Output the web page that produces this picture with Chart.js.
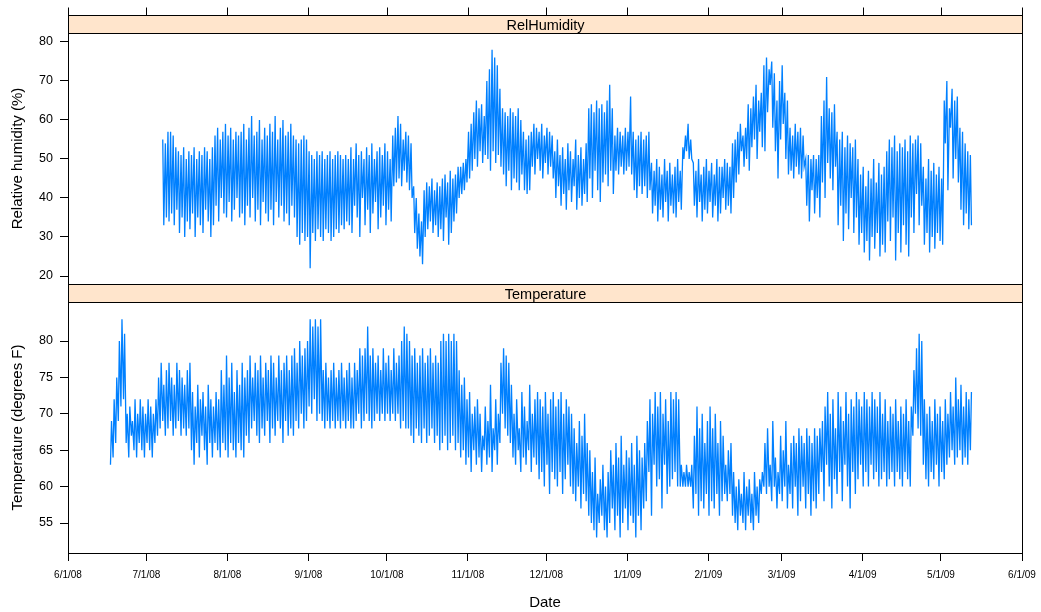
<!DOCTYPE html>
<html>
<head>
<meta charset="utf-8">
<script src="https://cdn.jsdelivr.net/npm/chart.js@4/dist/chart.umd.min.js"></script>
<style>
  html, body { margin: 0; padding: 0; background: #fff; }
  #wrap { position: relative; width: 1041px; height: 612px; }
  #wrap canvas { position: absolute; left: 0; }
  #humCanvas { top: 0; }
  #tempCanvas { top: 284px; }
</style>
</head>
<body>
<div id="wrap">
  <canvas id="humCanvas" width="1041" height="284"></canvas>
  <canvas id="tempCanvas" width="1041" height="328"></canvas>
</div>
<script>
/* Axis ticks: days after 6/1/08 */
const monthDays = [0, 30, 61, 92, 122, 153, 183, 214, 245, 273, 304, 334, 365];
const monthLabels = ['6/1/08', '7/1/08', '8/1/08', '9/1/08', '10/1/08', '11/1/08', '12/1/08',
  '1/1/09', '2/1/09', '3/1/09', '4/1/09', '5/1/09', '6/1/09'];
const humTicks = [20, 30, 40, 50, 60, 70, 80];
const tempTicks = [55, 60, 65, 70, 75, 80];

/* Relative humidity, daily high / low, first day 7/7/08 (day 36) */
const humStart = 36;
const humHigh = [
  55,54,57,57,56,53,52,51,53,50, 52,51,53,50,52,51,53,52,50,53,
  56,58,55,57,59,56,58,55,57,56, 57,59,55,58,61,56,57,60,55,58,
  56,59,57,61,55,58,60,56,57,59, 56,55,54,55,56,55,52,51,50,52,
  51,52,50,51,52,50,51,52,51,50, 51,50,53,50,54,51,52,50,53,51,
  54,50,52,53,51,54,52,50,56,58, 61,59,55,57,56,54,43,40,36,34,
  42,44,43,45,42,44,43,45,46,44, 47,45,46,48,48,49,50,57,59,62,
  65,63,64,61,70,73,78,76,74,68, 63,62,61,63,62,61,63,60,57,55,
  56,57,59,58,57,59,56,58,57,56, 52,55,51,53,50,54,52,50,55,51,
  53,50,54,63,64,62,65,63,64,62, 65,69,63,56,58,57,56,58,57,66,
  57,55,56,57,55,56,57,49,47,50, 48,46,50,47,49,46,48,50,47,53,
  56,59,55,49,47,50,46,48,50,47, 49,46,50,48,48,50,49,48,54,55,
  57,59,56,58,64,63,66,69,65,67, 74,76,73,75,72,65,70,74,67,65,
  58,56,59,57,58,56,50,51,50,51, 50,51,61,65,71,63,62,64,57,55,
  57,53,56,54,53,55,50,46,48,43, 47,45,50,44,49,46,48,52,55,53,
  56,52,54,53,55,52,56,54,55,56, 54,48,45,50,47,49,46,48,45,65,
  70,63,68,65,66,58,57,54,52,51
];
const humLow = [
  33,35,34,36,33,37,31,35,30,34, 32,36,30,35,33,31,37,34,30,33,
  38,34,40,36,35,39,34,37,40,35, 36,33,38,35,40,34,37,33,39,36,
  34,37,33,39,35,38,34,36,33,38, 35,30,28,31,29,30,22,31,29,32,
  30,29,32,31,29,30,32,31,33,32, 34,33,31,38,35,30,40,33,37,31,
  36,39,32,35,38,33,37,34,43,44, 45,43,47,44,42,40,31,27,25,23,
  30,32,34,31,33,30,32,29,35,28, 31,34,36,40,41,42,44,45,47,50,
  48,52,49,51,50,47,52,49,51,48, 46,43,47,42,45,44,42,46,42,41,
  42,48,46,50,47,45,49,46,48,45, 40,43,38,41,37,42,39,43,37,40,
  38,41,39,45,40,47,42,39,44,46, 43,47,41,47,46,48,46,47,48,46,
  42,40,43,41,43,40,42,36,38,34, 37,35,39,34,38,36,35,39,37,50,
  52,50,50,38,35,39,34,37,36,39, 35,38,34,36,40,37,38,36,40,44,
  46,52,48,50,47,53,55,50,57,53, 52,62,69,58,52,45,55,59,50,46,
  47,45,48,46,45,48,38,34,42,36, 40,35,44,40,49,45,42,48,33,38,
  29,36,32,40,31,35,28,31,26,29, 24,30,27,31,25,28,26,34,29,35,
  24,31,26,33,28,25,35,31,41,33, 38,28,31,26,30,27,31,29,28,54,
  42,58,45,50,44,37,33,36,32,33
];

/* Temperature (F), daily high / low, first day 6/17/08 (day 16) */
const tempStart = 16;
const tempHigh = [
  69,72,75,80,83,81,70,71,69,72, 70,72,71,70,72,71,70,72,75,77,
  74,76,77,75,74,77,76,75,74,76, 77,73,71,74,72,73,71,74,72,71,
  73,72,76,74,78,75,77,73,76,74, 77,75,76,78,75,77,76,78,75,77,
  76,78,77,75,78,76,77,78,76,78, 79,77,80,78,79,80,83,82,83,82,
  83,76,77,75,76,77,75,76,77,75, 76,77,75,77,76,79,78,79,82,78,
  79,77,78,76,79,77,78,76,79,77, 78,80,82,81,80,78,79,77,78,79,
  77,78,79,77,78,77,80,81,80,81, 80,81,80,76,74,75,72,73,70,71,
  72,70,67,71,69,74,68,72,70,77, 79,78,77,74,70,72,68,73,71,69,
  74,70,72,73,72,71,73,70,72,73, 71,72,73,70,72,71,70,68,66,69,
  67,70,66,65,62,64,59,61,63,60, 62,65,63,66,64,67,63,65,64,66,
  63,67,65,64,66,69,72,70,73,71, 73,70,72,69,73,72,73,72,63,62,
  63,62,63,67,71,68,70,66,69,71, 68,70,66,69,67,63,65,66,62,60,
  61,59,62,60,61,59,62,60,61,62, 66,68,63,69,64,62,67,65,69,63,
  66,67,66,68,67,66,68,67,66,68, 67,68,69,71,73,70,72,68,73,71,
  69,73,70,72,71,73,72,71,73,72, 71,73,72,71,73,70,72,69,71,70,
  72,69,71,70,72,69,71,76,79,81, 80,72,70,71,69,72,70,71,69,72,
  70,73,71,75,72,74,71,73,72,73
];
const tempLow = [
  63,64,66,69,71,72,66,64,67,65, 64,66,65,64,66,65,64,66,67,68,
  69,67,68,69,67,68,69,67,68,67, 68,65,63,66,64,67,65,63,66,64,
  66,65,64,66,65,64,66,65,64,66, 65,64,67,66,68,69,67,66,68,67,
  69,66,68,67,69,68,66,69,67,68, 67,69,68,70,68,69,71,70,72,69,
  70,69,68,69,68,69,68,69,68,69, 68,69,68,68,69,70,68,69,70,69,
  68,69,70,69,70,69,70,69,70,69, 70,68,69,68,68,67,66,68,67,66,
  68,66,67,68,66,67,65,66,67,65, 66,67,65,66,64,65,63,64,62,65,
  63,64,62,65,63,64,62,65,63,66, 70,68,67,66,64,63,65,62,64,63,
  65,62,64,63,61,62,60,63,59,62, 61,60,62,59,61,63,60,59,58,60,
  57,59,58,56,55,54,53,55,56,54, 53,55,57,54,56,53,55,57,54,56,
  55,53,56,54,57,58,62,56,63,60, 61,57,63,59,60,61,62,60,60,60,
  60,60,60,57,59,56,58,57,59,56, 58,57,59,56,58,59,58,59,56,55,
  54,56,55,54,56,55,54,56,55,59, 60,59,60,58,60,57,59,58,60,57,
  59,57,60,56,58,60,57,59,56,58, 57,59,62,58,63,60,57,61,59,62,
  58,63,60,57,62,59,61,63,60,62, 60,63,61,62,60,61,62,60,61,62,
  60,62,61,60,62,61,60,67,70,68, 67,63,61,60,62,61,63,60,62,61,
  63,64,65,63,64,65,63,64,63,65
];

const FONT = "'Liberation Sans', Arial, Helvetica, sans-serif";
const LINE_COLOR = '#0080ff';

// high at night / low in afternoon for humidity, reverse for temperature
function humPoints() {
  const pts = [];
  humHigh.forEach((v, i) => {
    pts.push({ x: humStart + i + 0.25, y: v });
    pts.push({ x: humStart + i + 0.65, y: humLow[i] });
  });
  return pts;
}
function tempPoints() {
  const pts = [];
  tempHigh.forEach((v, i) => {
    pts.push({ x: tempStart + i + 0.25, y: tempLow[i] });
    pts.push({ x: tempStart + i + 0.65, y: v });
  });
  return pts;
}

/* Strip + panel box (+ top ticks on the first panel) */
const panelPlugin = {
  id: 'panel',
  afterDraw(chart, args, opts) {
    const { ctx, chartArea } = chart;
    const l = Math.round(chartArea.left) + 0.5;
    const r = Math.round(chartArea.right) + 0.5;
    const t = Math.round(chartArea.top) + 0.5;
    const b = Math.round(chartArea.bottom) + 0.5;
    const stripH = 18;
    ctx.save();
    ctx.fillStyle = '#ffe5cc';
    ctx.fillRect(l, t - stripH, r - l, stripH);
    ctx.strokeStyle = '#000';
    ctx.lineWidth = 1;
    ctx.strokeRect(l, t - stripH, r - l, stripH);
    ctx.strokeRect(l, t, r - l, b - t);
    ctx.fillStyle = '#000';
    ctx.font = '14.5px ' + FONT;
    ctx.textAlign = 'center';
    ctx.textBaseline = 'middle';
    ctx.fillText(opts.label, (l + r) / 2, t - stripH / 2 + 1);
    if (opts.topTicks) {
      const xs = chart.scales.x;
      ctx.beginPath();
      monthDays.forEach((d) => {
        const x = Math.round(xs.getPixelForValue(d)) + 0.5;
        ctx.moveTo(x, t - stripH);
        ctx.lineTo(x, t - stripH - 8);
      });
      ctx.stroke();
    }
    ctx.restore();
  },
};

function yAxis(min, max, ticks, title) {
  return {
    type: 'linear',
    position: 'left',
    min: min,
    max: max,
    afterBuildTicks: (scale) => { scale.ticks = ticks.map((v) => ({ value: v })); },
    afterFit: (scale) => { scale.width = 68; scale.paddingTop = 0; scale.paddingBottom = 0; },
    grid: { drawOnChartArea: false, drawTicks: true, tickLength: 8, color: '#000' },
    border: { display: true, color: '#000' },
    ticks: { color: '#000', font: { family: FONT, size: 12.5 }, padding: 7 },
    title: {
      display: true, text: title, color: '#000',
      font: { family: FONT, size: 15 }, padding: { top: 9, bottom: 0 },
    },
  };
}

function baseOptions() {
  return {
    responsive: false,
    animation: false,
    events: [],
  };
}

/* Top panel: relative humidity */
const humChart = new Chart(document.getElementById('humCanvas'), {
  type: 'line',
  data: {
    datasets: [{
      data: humPoints(),
      borderColor: LINE_COLOR,
      borderWidth: 1.3,
      pointRadius: 0,
      fill: false,
      tension: 0,
    }],
  },
  options: Object.assign(baseOptions(), {
    layout: { padding: { top: 33, right: 19, left: 0, bottom: 0 } },
    scales: {
      x: { type: 'linear', min: 0, max: 365, display: false },
      y: yAxis(17.95, 82.3, humTicks, 'Relative humidity (%)'),
    },
    plugins: {
      legend: { display: false },
      tooltip: { enabled: false },
      panel: { label: 'RelHumidity', topTicks: true },
    },
  }),
  plugins: [panelPlugin],
});

/* Bottom panel: temperature */
const tempChart = new Chart(document.getElementById('tempCanvas'), {
  type: 'line',
  data: {
    datasets: [{
      data: tempPoints(),
      borderColor: LINE_COLOR,
      borderWidth: 1.3,
      pointRadius: 0,
      fill: false,
      tension: 0,
    }],
  },
  options: Object.assign(baseOptions(), {
    layout: { padding: { top: 18, right: 19, left: 0, bottom: 0 } },
    scales: {
      x: {
        type: 'linear',
        min: 0,
        max: 365,
        afterBuildTicks: (scale) => { scale.ticks = monthDays.map((v) => ({ value: v })); },
        afterFit: (scale) => { scale.height = 59; scale.paddingLeft = 0; scale.paddingRight = 0; },
        grid: { drawOnChartArea: false, drawTicks: true, tickLength: 8, color: '#000' },
        border: { display: true, color: '#000' },
        ticks: {
          color: '#000',
          font: { family: FONT, size: 10 },
          padding: 8,
          maxRotation: 0,
          autoSkip: false,
          callback: (v) => monthLabels[monthDays.indexOf(v)],
        },
        title: {
          display: true, text: 'Date', color: '#000',
          font: { family: FONT, size: 15 }, padding: { top: 3, bottom: 0 },
        },
      },
      y: yAxis(50.88, 85.36, tempTicks, 'Temperature (degrees F)'),
    },
    plugins: {
      legend: { display: false },
      tooltip: { enabled: false },
      panel: { label: 'Temperature', topTicks: false },
    },
  }),
  plugins: [panelPlugin],
});
</script>
</body>
</html>
